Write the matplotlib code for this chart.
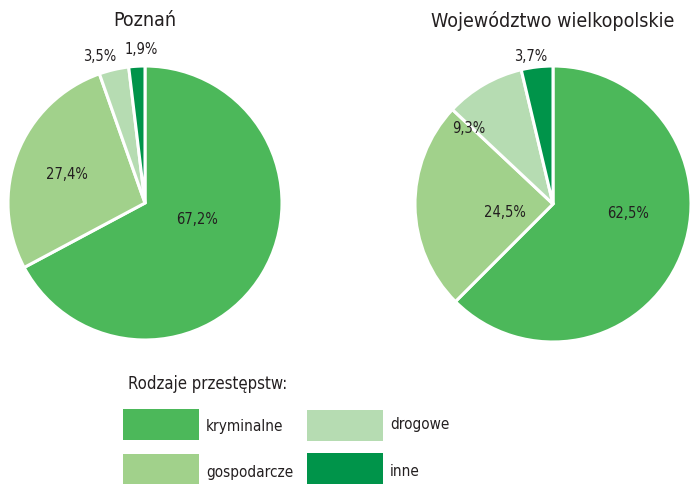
import numpy as np
import matplotlib
matplotlib.use("Agg")
import matplotlib.pyplot as plt
from matplotlib.patches import Rectangle

# data
categories = ["kryminalne", "gospodarcze", "drogowe", "inne"]
poznan = [67.2, 27.4, 3.5, 1.9]
wojewodztwo = [62.5, 24.5, 9.3, 3.7]
titles = ["Poznań", "Województwo wielkopolskie"]
legend_title = "Rodzaje przestępstw:"
colors = ["#4cb85a", "#a1d18b", "#b6dcb2", "#00944a"]

plt.rcParams["font.family"] = ["DejaVu Sans"]
plt.rcParams["font.stretch"] = "condensed"
txt = "#231f20"

W, H = 691, 484
fig = plt.figure(figsize=(W / 100, H / 100), dpi=100)
ax = fig.add_axes([0, 0, 1, 1])


def draw_pie(values, cx, cy, r, dists, shifts, title):
    wedges, _ = ax.pie(values, colors=colors, startangle=90, counterclock=False,
                       center=(cx, H - cy), radius=r,
                       wedgeprops=dict(edgecolor="white", linewidth=2.2))
    # percent labels placed along each wedge's middle angle
    for w, v, d, s in zip(wedges, values, dists, shifts):
        ang = np.deg2rad((w.theta1 + w.theta2) / 2 + s)
        x = cx + d * r * np.cos(ang)
        y = H - cy + d * r * np.sin(ang)
        ax.text(x, y, f"{v:.1f}%".replace(".", ","), ha="center", va="center",
                fontsize=10.5, color=txt)
    ax.text(cx, H - 21, title, ha="center", va="center", fontsize=14, color=txt)


draw_pie(poznan, 145, 203, 137, [0.40, 0.61, 1.12, 1.12], [13, 1, 4, -2], titles[0])
draw_pie(wojewodztwo, 553, 204, 138, [0.55, 0.35, 0.82, 1.08], [15, 9, 18, 2], titles[1])

# legend
ax.text(128, H - 384, legend_title, ha="left", va="center", fontsize=12, color=txt)
pos = [(123, 409), (123, 454), (307, 410), (307, 453)]
label_dy = [18, 19, 15, 19]
for (x, y), c, lab, dy in zip(pos, colors, categories, label_dy):
    ax.add_patch(Rectangle((x, H - y - 31), 76, 31, facecolor=c, edgecolor="none"))
    ax.text(x + 83, H - y - dy, lab, ha="left", va="center", fontsize=11, color=txt)

ax.set_aspect("auto")
ax.set_xlim(0, W)
ax.set_ylim(0, H)
ax.axis("off")

fig.savefig("out.png", dpi=100)
